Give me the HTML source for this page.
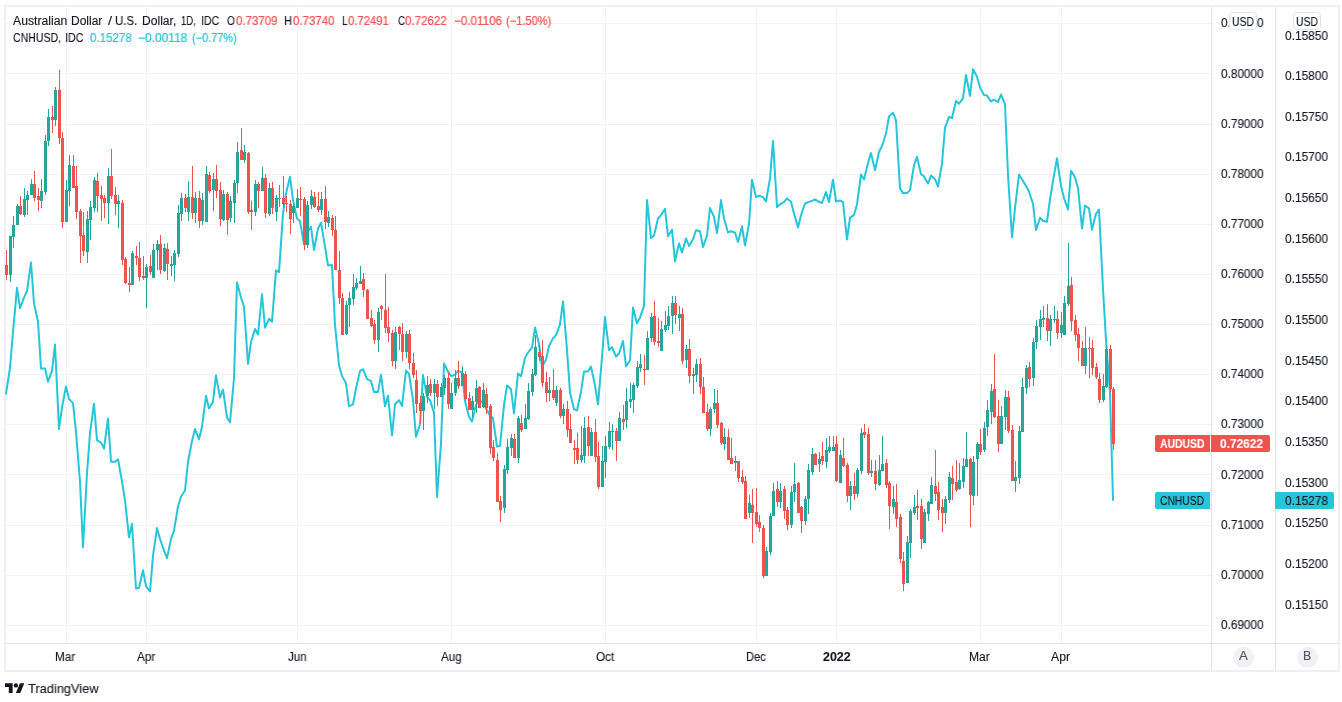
<!DOCTYPE html>
<html lang="en"><head><meta charset="utf-8"><title>AUDUSD / CNHUSD chart</title>
<style>
html,body{margin:0;padding:0;background:#fff;}
body{width:1342px;height:702px;position:relative;overflow:hidden;font-family:"Liberation Sans",sans-serif;font-size:12px;color:#131722;}
.frame{position:absolute;left:4px;top:5px;width:1336px;height:667px;box-sizing:border-box;border:2px solid #eef0f5;}
.t{position:absolute;display:inline-block;white-space:nowrap;transform-origin:0 50%;will-change:transform;-webkit-text-stroke:0.12px;}
.usd{position:absolute;top:12.2px;height:18px;width:28px;box-sizing:border-box;border:1px solid #e0e3eb;border-radius:4px;background:#fff;}
.circ{position:absolute;top:646.5px;width:21px;height:21px;border-radius:50%;background:#f0f1f5;}
.tag{position:absolute;height:17px;}
.r{color:#ef5350}.c{color:#26c6da}
</style></head><body>
<div class="frame"></div>

<svg width="1342" height="702" viewBox="0 0 1342 702" style="position:absolute;left:0;top:0" shape-rendering="crispEdges">
<rect x="6" y="23" width="1205" height="1" fill="#f3f3f5"/>
<rect x="6" y="73" width="1205" height="1" fill="#f3f3f5"/>
<rect x="6" y="124" width="1205" height="1" fill="#f3f3f5"/>
<rect x="6" y="174" width="1205" height="1" fill="#f3f3f5"/>
<rect x="6" y="224" width="1205" height="1" fill="#f3f3f5"/>
<rect x="6" y="274" width="1205" height="1" fill="#f3f3f5"/>
<rect x="6" y="324" width="1205" height="1" fill="#f3f3f5"/>
<rect x="6" y="374" width="1205" height="1" fill="#f3f3f5"/>
<rect x="6" y="424" width="1205" height="1" fill="#f3f3f5"/>
<rect x="6" y="474" width="1205" height="1" fill="#f3f3f5"/>
<rect x="6" y="525" width="1205" height="1" fill="#f3f3f5"/>
<rect x="6" y="575" width="1205" height="1" fill="#f3f3f5"/>
<rect x="6" y="625" width="1205" height="1" fill="#f3f3f5"/>
<rect x="66" y="7" width="1" height="636" fill="#f3f3f5"/>
<rect x="146" y="7" width="1" height="636" fill="#f3f3f5"/>
<rect x="297" y="7" width="1" height="636" fill="#f3f3f5"/>
<rect x="451" y="7" width="1" height="636" fill="#f3f3f5"/>
<rect x="605" y="7" width="1" height="636" fill="#f3f3f5"/>
<rect x="756" y="7" width="1" height="636" fill="#f3f3f5"/>
<rect x="836" y="7" width="1" height="636" fill="#f3f3f5"/>
<rect x="980" y="7" width="1" height="636" fill="#f3f3f5"/>
<rect x="1061" y="7" width="1" height="636" fill="#f3f3f5"/>
<polyline points="6,393.5 10,368 13,332 17,287.8 20,308.1 24,297.6 27,290.9 31,262.5 34,303.4 38,321.8 41,368.5 45,368.5 48,381.7 52,370.8 55,344.6 59,428.9 62,407.6 66,386.4 69,398.9 73,403.1 76,431.8 80,481.9 83,547.3 87,473 90,433.4 94,403.7 97,440.1 101,442.6 104,448.5 108,418.4 111,461.8 115,461.8 118,459.3 122,481.3 125,500.5 129,537.3 132,523.9 136,588.5 139,587.8 143,570.3 146,586.2 150,591.5 153,555.6 157,528.1 160,539 164,550.3 167,558.1 171,538.9 174,530.6 178,506.4 181,496.7 185,490.5 188,462 192,441 195,428.9 199,439.3 202,426.8 206,395.9 209,408.4 213,401.7 216,375.4 220,397.6 223,389.7 227,417.6 230,422.3 234,378.4 237,282.6 241,297.6 244,306.8 248,363.9 251,342 255,329 258,334.5 262,294.3 265,327.7 269,318.8 272,321.8 276,270.4 279,272.2 283,213.5 286,193.5 290,176.8 293,200.1 297,218.5 300,221 304,244.2 307,233.3 311,226.8 314,250 318,228.5 321,222.7 325,246.7 328,265.4 332,265.1 335,325 339,365.1 342,375.9 346,383.4 349,406.3 353,404.3 356,388.4 360,370.9 363,369.2 367,379.2 371,380.9 374,392.1 378,392.1 381,374.7 385,406.3 388,395.9 392,435.5 395,404.3 399,400.1 402,406 406,370.6 409,373.7 413,400.1 416,436.8 420,424.3 423,375.1 427,396.8 430,400.1 434,412.6 437,497 441,443.5 444,363.4 448,371.7 451,375.9 455,375 458,370.9 462,372.5 465,400.9 469,416.8 472,421.5 476,405.1 479,400.1 483,402.6 486,408.4 490,415.5 493,418 497,446.5 500,446 504,405.1 507,385.4 511,389.2 514,413.4 518,373.4 521,376.2 525,358 528,352.6 532,347.6 535,327.6 539,344 542,366.8 546,359.8 549,346 553,338.4 556,335.1 560,324.3 563,301.4 567,349.8 570,392.6 574,409.3 577,410.4 581,391.7 584,371.6 588,371.5 591,366.6 595,385.5 598,404.3 602,357.5 605,317.1 609,350.1 612,347.1 616,356.5 619,353.5 623,341 626,366.4 630,360.5 633,307.6 637,323.4 640,317.6 644,305.9 647,200.1 651,238.1 654,235.5 658,218.5 661,215.1 665,208.8 668,236.2 672,229.7 675,261.4 679,243.4 682,252.5 686,238.4 689,246 693,239.2 696,230.3 700,231.2 703,247 707,235.6 710,208.1 714,216.8 717,233.1 721,200.1 724,218.5 728,232.6 731,231.2 735,232.8 738,242 742,226.3 745,245.3 749,224.3 752,179.7 756,197.1 759,195.6 763,197.1 766,201.5 770,178.4 773,140.9 777,207.1 780,204.3 784,202.1 787,198.4 791,201.8 794,213.5 798,227.4 801,215.1 805,203.5 808,202.1 812,201 815,199.3 819,201.8 822,203 826,192.1 829,202.1 833,179.7 836,201.5 840,200.5 843,202.1 847,239.5 850,217.6 854,215.1 857,204.5 861,174.5 864,179.5 868,163 871,153.1 875,170.3 879,152 882,146 886,133.5 889,116.4 893,112.6 896,120.4 900,188.4 903,193.1 907,193.1 910,190.1 914,165.3 917,156.9 921,174.3 924,176.4 928,183.4 931,175.6 935,179.2 938,186.7 942,163.4 945,127.6 949,116.8 952,118.1 956,100.9 959,103.7 963,98.4 966,75 970,95.9 973,69.2 977,76.7 980,87.5 984,95.1 987,95.6 991,101.4 994,99.6 998,102.1 1001,94.6 1005,104.2 1008,175.2 1012,237.3 1015,208.1 1019,174.6 1022,179.2 1026,185.9 1029,191.7 1033,203.8 1036,230.1 1040,217.7 1043,220.8 1047,221.7 1050,199.5 1054,175 1057,158.4 1061,186 1064,198.1 1068,209.5 1071,170.8 1075,177.3 1078,187.9 1082,228.5 1085,205.5 1089,208.4 1092,229.7 1096,213.8 1099,209.6 1103,289 1106,340.5 1110,393 1113,500" fill="none" stroke="#26c6da" stroke-width="2" stroke-linejoin="round" stroke-linecap="round" shape-rendering="geometricPrecision"/>
<path d="M9 236h3v39h-3zM10 236h1v46h-1zM12 225h3v12h-3zM13 216h1v32h-1zM16 206h3v19h-3zM17 204h1v21h-1zM23 199h3v16h-3zM24 188h1v29h-1zM26 195h3v5h-3zM27 191h1v24h-1zM30 184h3v11h-3zM31 179h1v16h-1zM40 191h3v10h-3zM41 179h1v29h-1zM44 141h3v51h-3zM45 135h1v60h-1zM47 117h3v24h-3zM48 109h1v37h-1zM54 90h3v30h-3zM55 87h1v39h-1zM65 190h3v32h-3zM66 180h1v42h-1zM68 165h3v26h-3zM69 155h1v51h-1zM86 219h3v33h-3zM87 211h1v52h-1zM89 207h3v13h-3zM90 201h1v39h-1zM93 180h3v28h-3zM94 177h1v35h-1zM107 176h3v27h-3zM108 168h1v56h-1zM117 201h3v3h-3zM118 195h1v33h-1zM131 253h3v32h-3zM132 251h1v34h-1zM145 267h3v11h-3zM146 264h1v44h-1zM152 250h3v28h-3zM153 244h1v34h-1zM156 244h3v6h-3zM157 240h1v30h-1zM163 248h3v23h-3zM164 244h1v28h-1zM170 264h3v2h-3zM171 256h1v20h-1zM173 253h3v12h-3zM174 250h1v31h-1zM177 213h3v41h-3zM178 205h1v52h-1zM180 198h3v16h-3zM181 193h1v28h-1zM187 197h3v15h-3zM188 181h1v40h-1zM194 198h3v15h-3zM195 192h1v31h-1zM201 200h3v21h-3zM202 193h1v32h-1zM205 174h3v48h-3zM206 166h1v56h-1zM212 179h3v11h-3zM213 173h1v38h-1zM222 194h3v26h-3zM223 190h1v31h-1zM229 201h3v17h-3zM230 196h1v26h-1zM233 183h3v20h-3zM234 180h1v43h-1zM236 152h3v31h-3zM237 142h1v51h-1zM243 152h3v8h-3zM244 145h1v18h-1zM254 184h3v28h-3zM255 180h1v36h-1zM261 178h3v13h-3zM262 167h1v24h-1zM268 188h3v26h-3zM269 183h1v33h-1zM275 198h3v14h-3zM276 195h1v26h-1zM278 198h3v1h-3zM279 185h1v22h-1zM292 206h3v7h-3zM293 203h1v20h-1zM296 198h3v10h-3zM297 189h1v19h-1zM306 205h3v40h-3zM307 201h1v47h-1zM310 196h3v9h-3zM311 190h1v19h-1zM320 199h3v11h-3zM321 192h1v23h-1zM327 217h3v6h-3zM328 211h1v16h-1zM345 305h3v29h-3zM346 301h1v34h-1zM348 298h3v7h-3zM349 292h1v35h-1zM352 287h3v12h-3zM353 274h1v31h-1zM355 283h3v5h-3zM356 278h1v12h-1zM359 281h3v3h-3zM360 266h1v18h-1zM377 312h3v28h-3zM378 308h1v44h-1zM394 332h3v29h-3zM395 327h1v42h-1zM405 334h3v18h-3zM406 331h1v27h-1zM422 396h3v15h-3zM423 393h1v37h-1zM426 385h3v11h-3zM427 376h1v27h-1zM433 384h3v9h-3zM434 379h1v30h-1zM440 387h3v10h-3zM441 383h1v14h-1zM443 378h3v10h-3zM444 375h1v20h-1zM450 393h3v16h-3zM451 383h1v26h-1zM454 378h3v15h-3zM455 370h1v26h-1zM461 373h3v13h-3zM462 366h1v20h-1zM471 401h3v9h-3zM472 396h1v21h-1zM475 388h3v14h-3zM476 380h1v33h-1zM482 390h3v17h-3zM483 383h1v25h-1zM503 469h3v39h-3zM504 465h1v48h-1zM506 447h3v23h-3zM507 439h1v35h-1zM510 438h3v10h-3zM511 434h1v22h-1zM517 418h3v40h-3zM518 416h1v47h-1zM524 418h3v11h-3zM525 404h1v25h-1zM527 391h3v28h-3zM528 383h1v37h-1zM531 374h3v18h-3zM532 369h1v27h-1zM534 347h3v28h-3zM535 335h1v41h-1zM548 390h3v3h-3zM549 377h1v24h-1zM555 390h3v13h-3zM556 386h1v20h-1zM562 409h3v7h-3zM563 404h1v20h-1zM580 455h3v5h-3zM581 426h1v37h-1zM583 428h3v28h-3zM584 417h1v46h-1zM590 432h3v24h-3zM591 428h1v28h-1zM601 461h3v26h-3zM602 446h1v41h-1zM604 446h3v16h-3zM605 436h1v42h-1zM608 431h3v16h-3zM609 422h1v27h-1zM611 431h3v1h-3zM612 424h1v26h-1zM618 418h3v23h-3zM619 412h1v29h-1zM625 401h3v19h-3zM626 388h1v40h-1zM629 399h3v3h-3zM630 383h1v25h-1zM632 385h3v15h-3zM633 383h1v30h-1zM636 367h3v19h-3zM637 361h1v27h-1zM639 364h3v4h-3zM640 354h1v18h-1zM646 338h3v32h-3zM647 331h1v39h-1zM650 317h3v21h-3zM651 313h1v29h-1zM660 329h3v22h-3zM661 321h1v30h-1zM664 325h3v5h-3zM665 311h1v21h-1zM667 316h3v10h-3zM668 306h1v24h-1zM671 303h3v13h-3zM672 296h1v38h-1zM678 314h3v4h-3zM679 306h1v25h-1zM685 349h3v11h-3zM686 345h1v23h-1zM692 374h3v2h-3zM693 368h1v26h-1zM695 364h3v11h-3zM696 359h1v23h-1zM709 409h3v20h-3zM710 407h1v29h-1zM713 403h3v6h-3zM714 389h1v24h-1zM723 437h3v7h-3zM724 428h1v22h-1zM734 461h3v2h-3zM735 456h1v15h-1zM748 503h3v10h-3zM749 495h1v23h-1zM765 551h3v25h-3zM766 547h1v29h-1zM769 516h3v36h-3zM770 513h1v42h-1zM772 491h3v25h-3zM773 483h1v33h-1zM779 491h3v11h-3zM780 483h1v25h-1zM790 492h3v33h-3zM791 486h1v42h-1zM793 484h3v8h-3zM794 463h1v39h-1zM804 499h3v22h-3zM805 496h1v29h-1zM807 470h3v29h-3zM808 464h1v50h-1zM811 454h3v18h-3zM812 448h1v27h-1zM818 459h3v5h-3zM819 452h1v20h-1zM825 450h3v12h-3zM826 438h1v30h-1zM828 447h3v4h-3zM829 436h1v17h-1zM832 447h3v4h-3zM833 436h1v15h-1zM839 455h3v28h-3zM840 450h1v33h-1zM849 486h3v10h-3zM850 481h1v29h-1zM856 470h3v24h-3zM857 468h1v29h-1zM860 433h3v38h-3zM861 428h1v46h-1zM870 471h3v2h-3zM871 460h1v17h-1zM878 470h3v15h-3zM879 455h1v31h-1zM881 464h3v7h-3zM882 436h1v35h-1zM892 499h3v8h-3zM893 486h1v28h-1zM906 542h3v41h-3zM907 536h1v47h-1zM909 511h3v32h-3zM910 509h1v49h-1zM913 507h3v6h-3zM914 495h1v20h-1zM923 512h3v31h-3zM924 509h1v34h-1zM927 502h3v12h-3zM928 501h1v20h-1zM930 485h3v19h-3zM931 477h1v27h-1zM944 499h3v14h-3zM945 496h1v28h-1zM948 477h3v23h-3zM949 472h1v31h-1zM958 480h3v9h-3zM959 463h1v27h-1zM962 466h3v16h-3zM963 458h1v30h-1zM965 459h3v8h-3zM966 432h1v35h-1zM972 462h3v34h-3zM973 456h1v49h-1zM976 444h3v15h-3zM977 442h1v54h-1zM983 428h3v22h-3zM984 422h1v30h-1zM986 410h3v17h-3zM987 400h1v36h-1zM990 391h3v21h-3zM991 384h1v40h-1zM1000 416h3v28h-3zM1001 406h1v38h-1zM1004 397h3v20h-3zM1005 390h1v40h-1zM1014 477h3v4h-3zM1015 461h1v31h-1zM1018 431h3v47h-3zM1019 426h1v58h-1zM1021 387h3v45h-3zM1022 378h1v54h-1zM1025 368h3v20h-3zM1026 365h1v29h-1zM1032 342h3v36h-3zM1033 338h1v48h-1zM1035 326h3v16h-3zM1036 320h1v29h-1zM1039 319h3v8h-3zM1040 310h1v30h-1zM1042 318h3v2h-3zM1043 306h1v21h-1zM1049 319h3v12h-3zM1050 315h1v31h-1zM1053 319h3v1h-3zM1054 306h1v17h-1zM1060 325h3v8h-3zM1061 312h1v26h-1zM1063 303h3v32h-3zM1064 296h1v39h-1zM1067 286h3v18h-3zM1068 243h1v63h-1zM1084 348h3v18h-3zM1085 327h1v47h-1zM1102 386h3v14h-3zM1103 374h1v28h-1zM1105 349h3v38h-3zM1106 345h1v43h-1z" fill="#26a69a"/>
<path d="M5 265h3v10h-3zM6 250h1v30h-1zM19 206h3v8h-3zM20 196h1v19h-1zM33 184h3v14h-3zM34 171h1v30h-1zM37 196h3v4h-3zM38 188h1v23h-1zM51 117h3v3h-3zM52 106h1v27h-1zM58 90h3v48h-3zM59 70h1v74h-1zM61 138h3v84h-3zM62 132h1v96h-1zM72 166h3v22h-3zM73 155h1v33h-1zM75 186h3v26h-3zM76 166h1v53h-1zM79 211h3v25h-3zM80 209h1v54h-1zM82 235h3v16h-3zM83 212h1v44h-1zM96 181h3v15h-3zM97 173h1v39h-1zM100 195h3v4h-3zM101 186h1v35h-1zM103 198h3v5h-3zM104 195h1v23h-1zM110 176h3v20h-3zM111 149h1v50h-1zM114 195h3v9h-3zM115 187h1v28h-1zM121 203h3v57h-3zM122 200h1v65h-1zM124 259h3v24h-3zM125 257h1v27h-1zM128 283h3v2h-3zM129 267h1v25h-1zM135 256h3v2h-3zM136 246h1v19h-1zM138 258h3v19h-3zM139 242h1v39h-1zM142 276h3v2h-3zM143 256h1v24h-1zM149 266h3v6h-3zM150 255h1v20h-1zM159 244h3v26h-3zM160 235h1v39h-1zM166 249h3v15h-3zM167 243h1v37h-1zM184 198h3v10h-3zM185 194h1v18h-1zM191 197h3v16h-3zM192 166h1v53h-1zM198 198h3v23h-3zM199 191h1v37h-1zM208 175h3v16h-3zM209 172h1v21h-1zM215 179h3v12h-3zM216 165h1v33h-1zM219 190h3v29h-3zM220 182h1v44h-1zM226 194h3v26h-3zM227 192h1v43h-1zM240 150h3v10h-3zM241 128h1v32h-1zM247 153h3v59h-3zM248 152h1v62h-1zM250 210h3v2h-3zM251 201h1v29h-1zM257 184h3v7h-3zM258 182h1v26h-1zM264 178h3v35h-3zM265 174h1v44h-1zM271 188h3v20h-3zM272 182h1v32h-1zM282 198h3v6h-3zM283 176h1v32h-1zM285 203h3v1h-3zM286 196h1v16h-1zM289 204h3v15h-3zM290 200h1v34h-1zM299 199h3v1h-3zM300 187h1v29h-1zM303 199h3v46h-3zM304 197h1v53h-1zM313 197h3v10h-3zM314 192h1v16h-1zM317 206h3v4h-3zM318 192h1v20h-1zM324 199h3v23h-3zM325 186h1v43h-1zM331 218h3v12h-3zM332 215h1v21h-1zM334 230h3v40h-3zM335 216h1v54h-1zM338 270h3v28h-3zM339 251h1v53h-1zM341 298h3v37h-3zM342 293h1v42h-1zM362 279h3v11h-3zM363 273h1v24h-1zM366 290h3v29h-3zM367 289h1v30h-1zM370 318h3v8h-3zM371 310h1v17h-1zM373 324h3v16h-3zM374 320h1v24h-1zM380 306h3v3h-3zM381 305h1v15h-1zM384 310h3v18h-3zM385 274h1v59h-1zM387 327h3v6h-3zM388 307h1v35h-1zM391 333h3v28h-3zM392 330h1v36h-1zM398 327h3v7h-3zM399 326h1v24h-1zM401 334h3v18h-3zM402 323h1v38h-1zM408 334h3v29h-3zM409 330h1v39h-1zM412 363h3v12h-3zM413 353h1v25h-1zM415 380h3v24h-3zM416 370h1v43h-1zM419 403h3v8h-3zM420 396h1v28h-1zM429 384h3v9h-3zM430 379h1v17h-1zM436 384h3v13h-3zM437 380h1v26h-1zM447 378h3v26h-3zM448 372h1v37h-1zM457 378h3v8h-3zM458 361h1v28h-1zM464 374h3v25h-3zM465 371h1v30h-1zM468 398h3v12h-3zM469 392h1v18h-1zM478 387h3v21h-3zM479 386h1v22h-1zM485 394h3v14h-3zM486 388h1v26h-1zM489 406h3v42h-3zM490 404h1v50h-1zM492 447h3v11h-3zM493 440h1v21h-1zM496 460h3v42h-3zM497 453h1v49h-1zM499 501h3v9h-3zM500 496h1v26h-1zM513 439h3v19h-3zM514 434h1v24h-1zM520 423h3v7h-3zM521 415h1v17h-1zM538 352h3v5h-3zM539 345h1v16h-1zM541 356h3v27h-3zM542 340h1v47h-1zM545 382h3v11h-3zM546 372h1v30h-1zM552 390h3v8h-3zM553 369h1v31h-1zM559 390h3v26h-3zM560 388h1v30h-1zM566 409h3v21h-3zM567 401h1v36h-1zM569 429h3v14h-3zM570 414h1v29h-1zM573 448h3v2h-3zM574 440h1v24h-1zM576 448h3v12h-3zM577 433h1v31h-1zM587 427h3v19h-3zM588 416h1v40h-1zM594 432h3v25h-3zM595 419h1v43h-1zM597 456h3v31h-3zM598 442h1v47h-1zM615 431h3v10h-3zM616 428h1v33h-1zM622 419h3v3h-3zM623 405h1v25h-1zM643 369h3v1h-3zM644 355h1v30h-1zM653 316h3v26h-3zM654 301h1v44h-1zM657 341h3v2h-3zM658 318h1v29h-1zM674 303h3v12h-3zM675 296h1v28h-1zM681 314h3v47h-3zM682 308h1v56h-1zM688 349h3v27h-3zM689 339h1v44h-1zM699 364h3v23h-3zM700 358h1v36h-1zM702 387h3v26h-3zM703 377h1v36h-1zM706 412h3v17h-3zM707 404h1v27h-1zM716 403h3v22h-3zM717 390h1v38h-1zM720 423h3v20h-3zM721 422h1v23h-1zM727 437h3v23h-3zM728 429h1v31h-1zM730 458h3v6h-3zM731 438h1v26h-1zM737 461h3v17h-3zM738 461h1v21h-1zM741 477h3v5h-3zM742 470h1v14h-1zM744 481h3v38h-3zM745 476h1v43h-1zM751 505h3v8h-3zM752 489h1v54h-1zM755 512h3v12h-3zM756 488h1v39h-1zM758 522h3v6h-3zM759 515h1v17h-1zM762 528h3v48h-3zM763 525h1v53h-1zM776 489h3v13h-3zM777 481h1v26h-1zM783 489h3v22h-3zM784 486h1v33h-1zM786 510h3v15h-3zM787 507h1v23h-1zM797 483h3v30h-3zM798 482h1v31h-1zM800 507h3v14h-3zM801 506h1v27h-1zM814 454h3v11h-3zM815 453h1v12h-1zM821 456h3v5h-3zM822 442h1v23h-1zM835 444h3v37h-3zM836 436h1v46h-1zM842 458h3v8h-3zM843 438h1v29h-1zM846 465h3v31h-3zM847 463h1v39h-1zM853 486h3v8h-3zM854 473h1v27h-1zM863 432h3v3h-3zM864 424h1v14h-1zM867 434h3v39h-3zM868 428h1v47h-1zM874 471h3v13h-3zM875 460h1v30h-1zM885 463h3v22h-3zM886 459h1v29h-1zM888 483h3v23h-3zM889 481h1v48h-1zM895 502h3v17h-3zM896 484h1v43h-1zM899 517h3v42h-3zM900 514h1v49h-1zM902 561h3v23h-3zM903 552h1v39h-1zM916 506h3v2h-3zM917 490h1v30h-1zM920 506h3v33h-3zM921 499h1v50h-1zM934 486h3v8h-3zM935 450h1v51h-1zM937 492h3v18h-3zM938 482h1v38h-1zM941 507h3v6h-3zM942 499h1v33h-1zM951 478h3v6h-3zM952 466h1v34h-1zM955 482h3v8h-3zM956 460h1v32h-1zM969 459h3v36h-3zM970 458h1v69h-1zM979 444h3v8h-3zM980 429h1v26h-1zM993 389h3v28h-3zM994 354h1v64h-1zM997 416h3v28h-3zM998 400h1v52h-1zM1007 397h3v34h-3zM1008 391h1v42h-1zM1011 430h3v51h-3zM1012 425h1v56h-1zM1028 367h3v12h-3zM1029 362h1v25h-1zM1046 318h3v13h-3zM1047 304h1v37h-1zM1056 319h3v14h-3zM1057 311h1v28h-1zM1070 285h3v36h-3zM1071 277h1v54h-1zM1074 320h3v15h-3zM1075 315h1v26h-1zM1077 334h3v14h-3zM1078 328h1v33h-1zM1081 348h3v18h-3zM1082 341h1v25h-1zM1088 348h3v1h-3zM1089 337h1v41h-1zM1091 348h3v20h-3zM1092 340h1v35h-1zM1095 367h3v10h-3zM1096 363h1v16h-1zM1098 379h3v21h-3zM1099 373h1v30h-1zM1109 349h3v40h-3zM1110 345h1v47h-1zM1112 389h3v55h-3zM1113 387h1v63h-1z" fill="#ef5350"/>
<rect x="1211" y="7" width="1" height="663" fill="#e0e2e6"/>
<rect x="1275" y="7" width="1" height="663" fill="#e0e2e6"/>
<rect x="6" y="643" width="1332" height="1" fill="#e0e2e6"/>
</svg>
<span class="t" id="a81" style="left:1220.70px;top:16.47px;font-size:12px;line-height:14px;height:14px;color:#131722;transform:scaleX(0.9818);">0.81000</span>
<div class="usd" style="left:1229px"></div>
<div class="usd" style="left:1293px"></div>
<div class="circ" style="left:1232.5px"></div>
<div class="circ" style="left:1296.5px"></div>
<div class="tag" style="left:1155px;top:435px;width:55px;background:#ef5350;border-radius:2px 0 0 2px"></div>
<div class="tag" style="left:1211px;top:435px;width:59px;background:#ef5350;border-radius:0 2px 2px 0"></div>
<div class="tag" style="left:1155px;top:492px;width:55px;background:#26c6da;border-radius:2px 0 0 2px"></div>
<div class="tag" style="left:1275px;top:492px;width:59px;background:#26c6da;border-radius:0 2px 2px 0"></div>
<svg style="position:absolute;left:4.9px;top:681px" width="19.6" height="15.3" viewBox="0 0 36 28"><path d="M14 22H7V11H0V4h14v18zM28 22h-8l7.5-18h8L28 22z" fill="#131722"/><circle cx="20" cy="8" r="4" fill="#131722"/></svg>
<span class="t" id="a0" style="left:1220.70px;top:66.59px;font-size:12px;line-height:14px;height:14px;color:#131722;transform:scaleX(0.9818);">0.80000</span>
<span class="t" id="a1" style="left:1220.70px;top:116.71px;font-size:12px;line-height:14px;height:14px;color:#131722;transform:scaleX(0.9818);">0.79000</span>
<span class="t" id="a2" style="left:1220.70px;top:166.83px;font-size:12px;line-height:14px;height:14px;color:#131722;transform:scaleX(0.9818);">0.78000</span>
<span class="t" id="a3" style="left:1220.70px;top:216.95px;font-size:12px;line-height:14px;height:14px;color:#131722;transform:scaleX(0.9818);">0.77000</span>
<span class="t" id="a4" style="left:1220.70px;top:267.07px;font-size:12px;line-height:14px;height:14px;color:#131722;transform:scaleX(0.9818);">0.76000</span>
<span class="t" id="a5" style="left:1220.70px;top:317.19px;font-size:12px;line-height:14px;height:14px;color:#131722;transform:scaleX(0.9818);">0.75000</span>
<span class="t" id="a6" style="left:1220.70px;top:367.31px;font-size:12px;line-height:14px;height:14px;color:#131722;transform:scaleX(0.9818);">0.74000</span>
<span class="t" id="a7" style="left:1220.70px;top:417.43px;font-size:12px;line-height:14px;height:14px;color:#131722;transform:scaleX(0.9818);">0.73000</span>
<span class="t" id="a8" style="left:1220.70px;top:467.55px;font-size:12px;line-height:14px;height:14px;color:#131722;transform:scaleX(0.9818);">0.72000</span>
<span class="t" id="a9" style="left:1220.70px;top:517.67px;font-size:12px;line-height:14px;height:14px;color:#131722;transform:scaleX(0.9818);">0.71000</span>
<span class="t" id="a10" style="left:1220.70px;top:567.79px;font-size:12px;line-height:14px;height:14px;color:#131722;transform:scaleX(0.9818);">0.70000</span>
<span class="t" id="a11" style="left:1220.70px;top:617.91px;font-size:12px;line-height:14px;height:14px;color:#131722;transform:scaleX(0.9818);">0.69000</span>
<span class="t" id="b0" style="left:1284.50px;top:28.54px;font-size:12px;line-height:14px;height:14px;color:#131722;transform:scaleX(0.9910);">0.15850</span>
<span class="t" id="b1" style="left:1284.50px;top:69.18px;font-size:12px;line-height:14px;height:14px;color:#131722;transform:scaleX(0.9910);">0.15800</span>
<span class="t" id="b2" style="left:1284.50px;top:109.82px;font-size:12px;line-height:14px;height:14px;color:#131722;transform:scaleX(0.9910);">0.15750</span>
<span class="t" id="b3" style="left:1284.50px;top:150.46px;font-size:12px;line-height:14px;height:14px;color:#131722;transform:scaleX(0.9910);">0.15700</span>
<span class="t" id="b4" style="left:1284.50px;top:191.10px;font-size:12px;line-height:14px;height:14px;color:#131722;transform:scaleX(0.9910);">0.15650</span>
<span class="t" id="b5" style="left:1284.50px;top:231.74px;font-size:12px;line-height:14px;height:14px;color:#131722;transform:scaleX(0.9910);">0.15600</span>
<span class="t" id="b6" style="left:1284.50px;top:272.38px;font-size:12px;line-height:14px;height:14px;color:#131722;transform:scaleX(0.9910);">0.15550</span>
<span class="t" id="b7" style="left:1284.50px;top:313.02px;font-size:12px;line-height:14px;height:14px;color:#131722;transform:scaleX(0.9910);">0.15500</span>
<span class="t" id="b8" style="left:1284.50px;top:353.66px;font-size:12px;line-height:14px;height:14px;color:#131722;transform:scaleX(0.9910);">0.15450</span>
<span class="t" id="b9" style="left:1284.50px;top:394.30px;font-size:12px;line-height:14px;height:14px;color:#131722;transform:scaleX(0.9910);">0.15400</span>
<span class="t" id="b10" style="left:1284.50px;top:434.94px;font-size:12px;line-height:14px;height:14px;color:#131722;transform:scaleX(0.9910);">0.15350</span>
<span class="t" id="b11" style="left:1284.50px;top:475.58px;font-size:12px;line-height:14px;height:14px;color:#131722;transform:scaleX(0.9910);">0.15300</span>
<span class="t" id="b12" style="left:1284.50px;top:516.22px;font-size:12px;line-height:14px;height:14px;color:#131722;transform:scaleX(0.9910);">0.15250</span>
<span class="t" id="b13" style="left:1284.50px;top:556.86px;font-size:12px;line-height:14px;height:14px;color:#131722;transform:scaleX(0.9910);">0.15200</span>
<span class="t" id="b14" style="left:1284.50px;top:597.50px;font-size:12px;line-height:14px;height:14px;color:#131722;transform:scaleX(0.9910);">0.15150</span>
<span class="t" id="usdA" style="left:1232.00px;top:15.20px;font-size:12px;line-height:14px;height:14px;color:#131722;transform:scaleX(0.8602);">USD</span>
<span class="t" id="usdB" style="left:1296.00px;top:15.20px;font-size:12px;line-height:14px;height:14px;color:#131722;transform:scaleX(0.8602);">USD</span>
<span class="t" id="tl0" style="left:55.10px;top:650.20px;font-size:12px;line-height:14px;height:14px;color:#131722;transform:scaleX(0.9723);">Mar</span>
<span class="t" id="tl1" style="left:136.90px;top:650.20px;font-size:12px;line-height:14px;height:14px;color:#131722;transform:scaleX(0.9739);">Apr</span>
<span class="t" id="tl2" style="left:287.50px;top:650.20px;font-size:12px;line-height:14px;height:14px;color:#131722;transform:scaleX(0.9608);">Jun</span>
<span class="t" id="tl3" style="left:441.30px;top:650.20px;font-size:12px;line-height:14px;height:14px;color:#131722;transform:scaleX(0.9644);">Aug</span>
<span class="t" id="tl4" style="left:595.50px;top:650.20px;font-size:12px;line-height:14px;height:14px;color:#131722;transform:scaleX(0.9747);">Oct</span>
<span class="t" id="tl5" style="left:745.70px;top:650.20px;font-size:12px;line-height:14px;height:14px;color:#131722;transform:scaleX(0.9277);">Dec</span>
<span class="t" id="tl6" style="left:822.90px;top:650.20px;font-size:12px;line-height:14px;height:14px;color:#131722;font-weight:bold;transform:scaleX(1.0336);">2022</span>
<span class="t" id="tl7" style="left:969.00px;top:650.20px;font-size:12px;line-height:14px;height:14px;color:#131722;transform:scaleX(1.0062);">Mar</span>
<span class="t" id="tl8" style="left:1051.40px;top:650.20px;font-size:12px;line-height:14px;height:14px;color:#131722;transform:scaleX(1.0167);">Apr</span>
<span class="t" id="cA" style="left:1238.90px;top:649.30px;font-size:12px;line-height:14px;height:14px;color:#50535e;transform:scaleX(1.0979);">A</span>
<span class="t" id="cB" style="left:1302.90px;top:649.30px;font-size:12px;line-height:14px;height:14px;color:#50535e;transform:scaleX(1.0230);">B</span>
<span class="t" id="tgA" style="left:1160.40px;top:436.70px;font-size:12px;line-height:14px;height:14px;color:#fff;font-weight:bold;transform:scaleX(0.8648);">AUDUSD</span>
<span class="t" id="tgAv" style="left:1220.40px;top:436.70px;font-size:12px;line-height:14px;height:14px;color:#fff;font-weight:bold;transform:scaleX(0.9910);">0.72622</span>
<span class="t" id="tgB" style="left:1160.20px;top:493.80px;font-size:12px;line-height:14px;height:14px;color:#131722;transform:scaleX(0.8570);">CNHUSD</span>
<span class="t" id="tgBv" style="left:1284.50px;top:493.80px;font-size:12px;line-height:14px;height:14px;color:#131722;transform:scaleX(0.9910);">0.15278</span>
<span class="t" id="w1" style="left:12.75px;top:14.10px;font-size:12px;line-height:14px;height:14px;color:#131722;transform:scaleX(1.0164);">Australian</span>
<span class="t" id="w2" style="left:70.50px;top:14.10px;font-size:12px;line-height:14px;height:14px;color:#131722;transform:scaleX(0.9970);">Dollar</span>
<span class="t" id="w3" style="left:107.75px;top:14.10px;font-size:12px;line-height:14px;height:14px;color:#131722;transform:scaleX(1.1963);">/</span>
<span class="t" id="w4" style="left:115.25px;top:14.10px;font-size:12px;line-height:14px;height:14px;color:#131722;transform:scaleX(0.9531);">U.S.</span>
<span class="t" id="w5" style="left:141.50px;top:14.10px;font-size:12px;line-height:14px;height:14px;color:#131722;transform:scaleX(1.0069);">Dollar,</span>
<span class="t" id="w6" style="left:180.75px;top:14.10px;font-size:12px;line-height:14px;height:14px;color:#131722;transform:scaleX(0.7893);">1D,</span>
<span class="t" id="w7" style="left:201.25px;top:14.10px;font-size:12px;line-height:14px;height:14px;color:#131722;transform:scaleX(0.8828);">IDC</span>
<span class="t" id="w8" style="left:226.75px;top:14.10px;font-size:12px;line-height:14px;height:14px;color:#131722;transform:scaleX(0.8294);">O</span>
<span class="t" id="w9" style="left:235.50px;top:14.10px;font-size:12px;line-height:14px;height:14px;color:#ef5350;-webkit-text-stroke:0.22px;transform:scaleX(0.9564);">0.73709</span>
<span class="t" id="w10" style="left:284.25px;top:14.10px;font-size:12px;line-height:14px;height:14px;color:#131722;transform:scaleX(0.9225);">H</span>
<span class="t" id="w11" style="left:292.75px;top:14.10px;font-size:12px;line-height:14px;height:14px;color:#ef5350;-webkit-text-stroke:0.22px;transform:scaleX(0.9564);">0.73740</span>
<span class="t" id="w12" style="left:341.50px;top:14.10px;font-size:12px;line-height:14px;height:14px;color:#131722;transform:scaleX(0.8224);">L</span>
<span class="t" id="w13" style="left:348.25px;top:14.10px;font-size:12px;line-height:14px;height:14px;color:#ef5350;-webkit-text-stroke:0.22px;transform:scaleX(0.9391);">0.72491</span>
<span class="t" id="w14" style="left:397.50px;top:14.10px;font-size:12px;line-height:14px;height:14px;color:#131722;transform:scaleX(0.8072);">C</span>
<span class="t" id="w15" style="left:404.75px;top:14.10px;font-size:12px;line-height:14px;height:14px;color:#ef5350;-webkit-text-stroke:0.22px;transform:scaleX(0.9622);">0.72622</span>
<span class="t" id="w16" style="left:453.75px;top:14.10px;font-size:12px;line-height:14px;height:14px;color:#ef5350;-webkit-text-stroke:0.22px;transform:scaleX(0.9697);">&minus;0.01106</span>
<span class="t" id="w17" style="left:506.00px;top:14.10px;font-size:12px;line-height:14px;height:14px;color:#ef5350;-webkit-text-stroke:0.22px;transform:scaleX(0.9229);">(&minus;1.50%)</span>
<span class="t" id="v1" style="left:12.75px;top:30.90px;font-size:12px;line-height:14px;height:14px;color:#131722;transform:scaleX(0.8780);">CNHUSD,</span>
<span class="t" id="v2" style="left:64.50px;top:30.90px;font-size:12px;line-height:14px;height:14px;color:#131722;transform:scaleX(0.8949);">IDC</span>
<span class="t" id="v3" style="left:89.50px;top:30.90px;font-size:12px;line-height:14px;height:14px;color:#26c6da;-webkit-text-stroke:0.22px;transform:scaleX(0.9622);">0.15278</span>
<span class="t" id="v4" style="left:138.25px;top:30.90px;font-size:12px;line-height:14px;height:14px;color:#26c6da;-webkit-text-stroke:0.22px;transform:scaleX(0.9949);">&minus;0.00118</span>
<span class="t" id="v5" style="left:192.25px;top:30.90px;font-size:12px;line-height:14px;height:14px;color:#26c6da;-webkit-text-stroke:0.22px;transform:scaleX(0.9127);">(&minus;0.77%)</span>
<span class="t" id="tv" style="left:28.00px;top:680.70px;font-size:13px;line-height:15px;height:15px;color:#131722;transform:scaleX(0.9868);">TradingView</span>
</body></html>
